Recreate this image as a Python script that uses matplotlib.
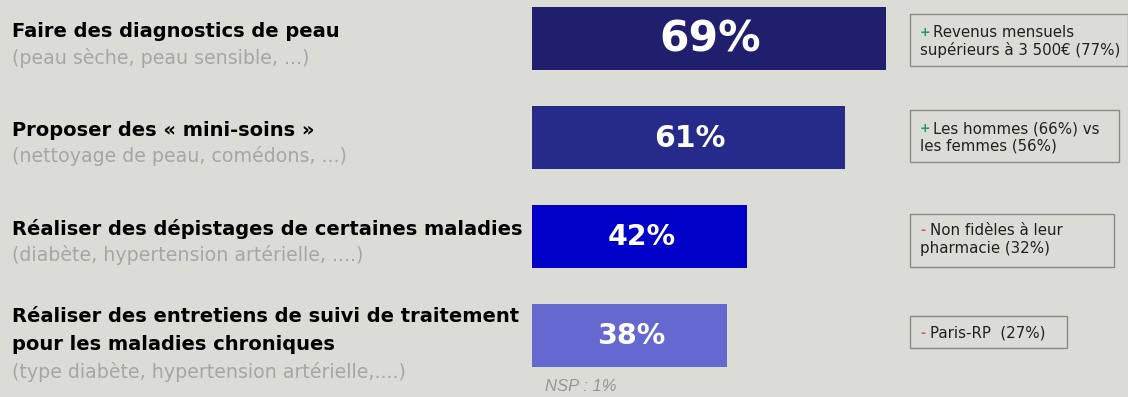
import matplotlib
matplotlib.use("Agg")
import matplotlib.pyplot as plt
from matplotlib.patches import Rectangle

# ---- data ----
titles = ["Faire des diagnostics de peau",
          "Proposer des « mini-soins »",
          "Réaliser des dépistages de certaines maladies",
          "Réaliser des entretiens de suivi de traitement\npour les maladies chroniques"]
subtitles = ["(peau sèche, peau sensible, ...)",
             "(nettoyage de peau, comédons, ...)",
             "(diabète, hypertension artérielle, ....)",
             "(type diabète, hypertension artérielle,....)"]
values = [69, 61, 42, 38]
value_labels = ["69%", "61%", "42%", "38%"]
note_signs = ["+", "+", "-", "-"]
notes = ["Revenus mensuels\nsupérieurs à 3 500€ (77%)",
         "Les hommes (66%) vs\nles femmes (56%)",
         "Non fidèles à leur\npharmacie (32%)",
         "Paris-RP  (27%)"]
nsp_label = "NSP : 1%"

# ---- style ----
W, H = 1128, 397
BG = "#dcdcd7"
bar_colors = ["#1f1f6e", "#262b8a", "#0000c8", "#6468cf"]
label_sizes = [30.5, 21.5, 20.5, 20.5]

fig = plt.figure(figsize=(W / 100, H / 100), dpi=100, facecolor=BG)

# bar axes: x=0 at pixel 532, 5.13 px per percent
px_per = 5.13
ax = fig.add_axes([532 / W, 0, 100 * px_per / W, 1])
ax.set_facecolor("none")
ax.set_xlim(0, 100)
ax.set_ylim((397 - 38.5) / 99, -38.5 / 99)
ax.axis("off")

ypos = list(range(len(values)))
ax.barh(ypos, values, height=0.645, color=bar_colors, edgecolor="none")
for y, v, lab, fs in zip(ypos, values, value_labels, label_sizes):
    ax.text(v / 2 + 0.3, y + 0.01, lab, color="white", fontsize=fs, fontweight="bold",
            family="DejaVu Sans", ha="center", va="center")


def fx(x):
    return x / W


def fy(y):
    return 1 - y / H


# titles (baselines in px from top)
title_base = [[37], [136], [235], [322, 350]]
sub_base = [64, 162, 261, 378]
for t, bases in zip(titles, title_base):
    for line, b in zip(t.split("\n"), bases):
        fig.text(fx(12), fy(b), line, fontsize=14, fontweight="bold",
                 family="DejaVu Sans", color="black", va="baseline", ha="left")
for s, b in zip(subtitles, sub_base):
    fig.text(fx(12), fy(b), s, fontsize=13.7, family="DejaVu Sans",
             color="#a6a6a6", va="baseline", ha="left")

# note boxes
boxes = [(910, 14, 218, 52), (910, 110, 209, 52), (910, 214, 204, 53), (910, 316, 157, 32)]
line_offsets = [(23, 41), (23, 41), (21, 39), (22,)]
for (bx, by, bw, bh), sgn, note, offs in zip(boxes, note_signs, notes, line_offsets):
    fig.patches.append(Rectangle((fx(bx), fy(by + bh)), bw / W, bh / H,
                                 transform=fig.transFigure, facecolor="none",
                                 edgecolor="#8a8a8a", linewidth=1.0))
    lines = note.split("\n")
    col = "#2a9a5a" if sgn == "+" else "#e05050"
    b1 = by + offs[0]
    fig.text(fx(920), fy(b1 - 1), sgn, fontsize=9, fontweight="bold", color=col,
             family="DejaVu Sans", va="baseline", ha="left")
    fig.text(fx(930 if sgn == "-" else 933), fy(b1), lines[0], fontsize=10.8, color="#202020",
             family="DejaVu Sans", va="baseline", ha="left")
    if len(lines) > 1:
        fig.text(fx(920), fy(by + offs[1]), lines[1], fontsize=10.8, color="#202020",
                 family="DejaVu Sans", va="baseline", ha="left")

fig.text(fx(545), fy(391), nsp_label, fontsize=12, style="italic", color="#959595",
         family="Liberation Sans", va="baseline", ha="left")

fig.savefig("out.png", dpi=100, facecolor=BG)
